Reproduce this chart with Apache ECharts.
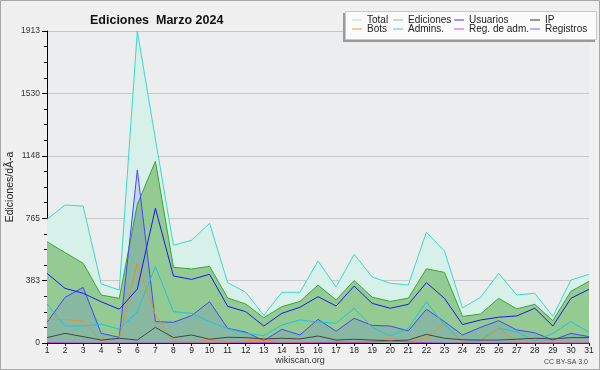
<!DOCTYPE html>
<html><head><meta charset="utf-8">
<script src="https://cdn.jsdelivr.net/npm/echarts/dist/echarts.min.js"></script>
<style>html,body{margin:0;padding:0;background:#f0f0f0}#c{width:600px;height:370px}</style>
</head><body><div id="c"></div><script>
const days = ['1','2','3','4','5','6','7','8','9','10','11','12','13','14','15','16','17','18','19','20','21','22','23','24','25','26','27','28','29','30','31'];
const total     = [758, 846, 840, 362, 325, 1913, 1250, 599, 630, 734, 370, 311, 170, 311, 311, 503, 343, 544, 405, 366, 356, 679, 564, 215, 280, 427, 294, 305, 163, 386, 421];
const ediciones = [621, 554, 489, 294, 274, 850, 1114, 464, 454, 470, 276, 239, 155, 223, 255, 355, 264, 383, 281, 255, 275, 455, 433, 163, 178, 274, 209, 237, 137, 317, 378];
const usuarios  = [427, 335, 305, 253, 207, 331, 826, 411, 390, 421, 225, 192, 104, 182, 219, 284, 227, 349, 243, 213, 237, 370, 274, 113, 141, 158, 166, 213, 104, 274, 329];
const ip        = [33, 59, 39, 18, 29, 18, 96, 33, 49, 23, 35, 33, 25, 29, 25, 43, 18, 23, 18, 14, 18, 53, 29, 20, 18, 18, 23, 29, 25, 33, 33];
const bots      = [145, 145, 133, 14, 29, 489, 172, 12, 4, 18, 2, 14, 18, 6, 2, 5, 4, 2, 8, 29, 8, 29, 121, 4, 12, 90, 2, 0, 0, 0, 0];
const admins    = [239, 104, 104, 116, 84, 192, 468, 192, 182, 131, 88, 59, 45, 110, 141, 129, 121, 213, 96, 43, 90, 253, 110, 8, 18, 90, 69, 12, 59, 131, 66];
const regadm    = [3, 1, 0, 0, 0, 0, 0, 0, 0, 0, 0, 2, 3, 0, 1, 2, 5, 4, 6, 12, 6, 2, 0, 0, 0, 0, 0, 0, 0, 0, 0];
const registros = [127, 280, 341, 59, 35, 1061, 131, 127, 168, 253, 90, 67, 14, 84, 49, 145, 72, 151, 108, 104, 74, 207, 131, 49, 96, 137, 80, 63, 18, 59, 39];
const yMax = 1913;

const FONT = 'Liberation Sans';
const legendItems = [
  ['Total', '#a6e6dc', 352, 15], ['Ediciones', '#7fc87f', 393, 15], ['Usuarios', '#3a3af0', 454, 15], ['IP', '#333333', 530, 15],
  ['Bots', '#f0a040', 352, 24], ['Admins.', '#40c8e0', 393, 24], ['Reg. de adm.', '#c050f0', 454, 24], ['Registros', '#6a6aff', 530, 24]
];

const chart = echarts.init(document.getElementById('c'));
function lineSeries(name, data, color, z, area) {
  const s = { name, type: 'line', data, symbol: 'none', z,
    lineStyle: { color, width: 1 }, itemStyle: { color } };
  if (area) s.areaStyle = area;
  return s;
}
chart.setOption({
  animation: false,
  backgroundColor: '#f0f0f0',
  title: { text: 'Ediciones  Marzo 2024', left: 85, top: 9,
    textStyle: { fontFamily: FONT, fontWeight: 'bold', fontSize: 12.5, color: '#111' } },
  graphic: [
    { type: 'rect', z: 0, shape: { x: 0.5, y: 0.5, width: 599, height: 369 }, style: { fill: 'none', stroke: '#a8a8a8', lineWidth: 1 } },
    { type: 'rect', z: 1, shape: { x: 343, y: 13, width: 252, height: 29 }, style: { fill: '#9a9a9a' } },
    { type: 'rect', z: 1, shape: { x: 345.5, y: 11.5, width: 251, height: 28 }, style: { fill: '#fbfbfb', stroke: '#c8c8c8', lineWidth: 1 } },
    { type: 'text', z: 1, style: { x: 300, y: 361, text: 'wikiscan.org', textAlign: 'center', textVerticalAlign: 'middle', fontFamily: FONT, fontSize: 9, fill: '#333' } },
    { type: 'text', z: 1, style: { x: 588, y: 362, text: 'CC BY-SA 3.0', textAlign: 'right', textVerticalAlign: 'middle', fontFamily: FONT, fontSize: 7, fill: '#444' } }
  ],
  legend: legendItems.map(([n, c, l, t]) => ({
    left: l, top: t, padding: 0, selectedMode: false, icon: 'rect', itemWidth: 10, itemHeight: 1, itemGap: 0, z: 5,
    data: [{ name: n, itemStyle: { color: c } }],
    textStyle: { fontFamily: FONT, fontSize: 10, color: '#222', padding: [0, 0, 0, 0] }
  })),
  grid: { left: 47, right: 11, top: 31, bottom: 27, outerBoundsMode: 'none', containLabel: false,
    show: true, backgroundColor: '#ecedef', borderWidth: 0 },
  xAxis: {
    type: 'category', data: days, boundaryGap: false,
    axisLine: { lineStyle: { color: '#000', width: 1 } },
    axisTick: { show: true, length: 3, interval: 0, lineStyle: { color: '#000' } },
    axisLabel: { interval: 0, margin: 3, fontFamily: FONT, fontSize: 8.5, color: '#222' },
    splitLine: { show: false }
  },
  yAxis: {
    type: 'value', min: 0, max: yMax, interval: yMax / 5,
    name: 'Ediciones/dÃ-a', nameLocation: 'middle', nameGap: 31, nameRotate: 90, nameMoveOverlap: false,
    nameTextStyle: { fontFamily: FONT, fontSize: 10.5, color: '#222' },
    axisLine: { show: true, lineStyle: { color: '#000', width: 1 } },
    axisTick: { show: true, length: 5, lineStyle: { color: '#000' } },
    minorTick: { show: true, splitNumber: 4, length: 3, lineStyle: { color: '#000' } },
    axisLabel: { margin: 7, fontFamily: FONT, fontSize: 8.5, color: '#333', formatter: v => String(Math.round(v)) },
    splitLine: { show: true, lineStyle: { color: '#c8c8c8', width: 1 } }
  },
  series: [
    lineSeries('Total', total, '#38dac8', 1, { color: '#d7f0e9', opacity: 1 }),
    lineSeries('Ediciones', ediciones, '#36a836', 2, { color: '#93cb93', opacity: 1 }),
    lineSeries('Registros', registros, '#4545ff', 3, { color: 'rgba(60,60,255,0.13)', opacity: 1 }),
    lineSeries('Admins.', admins, '#1ec4dc', 4),
    lineSeries('Bots', bots, '#e8902a', 4),
    lineSeries('IP', ip, '#454545', 4),
    lineSeries('Reg. de adm.', regadm, '#c040e0', 4),
    lineSeries('Usuarios', usuarios, '#1a1aee', 5)
  ]
});
</script></body></html>
